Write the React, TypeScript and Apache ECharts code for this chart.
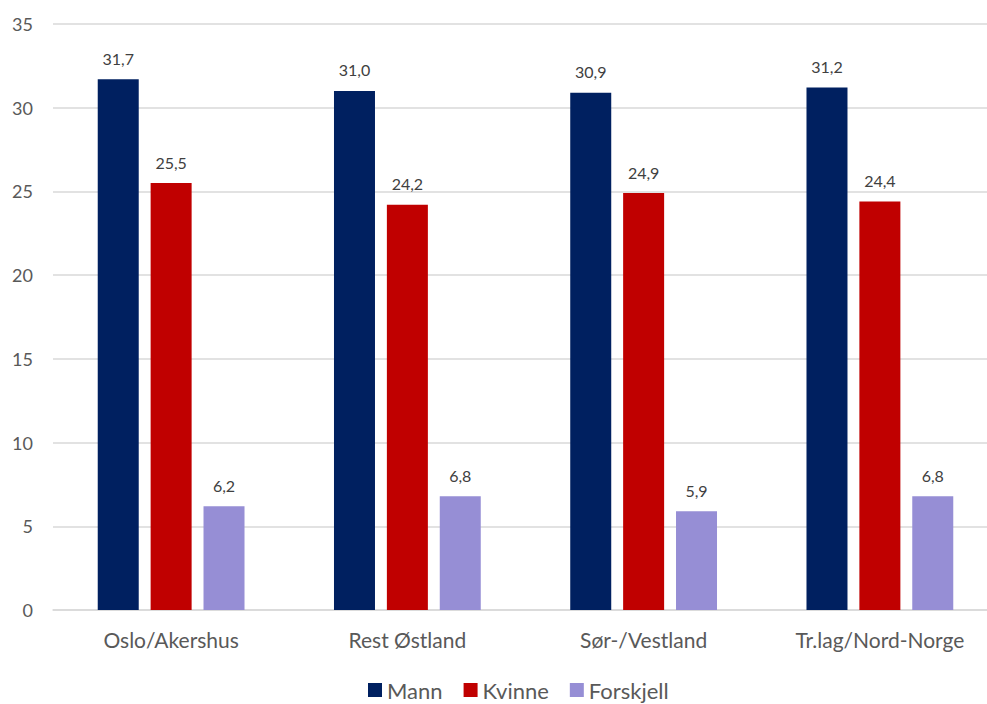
import React, { useEffect, useRef } from "react";
import * as echarts from "echarts";

const categories = ["Oslo/Akershus", "Rest Østland", "Sør-/Vestland", "Tr.lag/Nord-Norge"];
const mann = [31.7, 31.0, 30.9, 31.2];
const kvinne = [25.5, 24.2, 24.9, 24.4];
const forskjell = [6.2, 6.8, 5.9, 6.8];
const seriesNames = ["Mann", "Kvinne", "Forskjell"];
const seriesColors = ["#002060", "#C00000", "#968ED5"];

const FONT = "Lato, 'Noto Sans', sans-serif";
const TEXT = "#595959";

export default function App() {
  const ref = useRef<HTMLDivElement>(null);

  useEffect(() => {
    if (!ref.current) return;
    const chart = echarts.init(ref.current, null, { renderer: "svg" });
    const values = [mann, kvinne, forskjell];
    chart.setOption({
      animation: false,
      textStyle: { fontFamily: FONT },
      grid: { left: 53, right: 0, top: 24, bottom: 94, containLabel: false },
      legend: {
        top: 674,
        left: 363,
        itemWidth: 14,
        itemHeight: 14,
        itemGap: 21,
        icon: "rect",
        textStyle: { fontFamily: FONT, fontSize: 22, color: TEXT },
        data: seriesNames,
      },
      xAxis: {
        type: "category",
        data: categories,
        axisLine: { lineStyle: { color: "#D9D9D9", width: 1.5 } },
        axisTick: { show: false },
        axisLabel: { fontFamily: FONT, fontSize: 21, color: TEXT, margin: 19 },
      },
      yAxis: {
        type: "value",
        min: 0,
        max: 35,
        interval: 5,
        axisLine: { show: false },
        axisTick: { show: false },
        splitLine: { lineStyle: { color: "#D9D9D9", width: 1.5 } },
        axisLabel: { fontFamily: FONT, fontSize: 18, color: TEXT, margin: 20 },
      },
      series: seriesNames.map((name, i) => ({
        name,
        type: "bar",
        data: values[i],
        barWidth: 41,
        barGap: "29%",
        itemStyle: { color: seriesColors[i] },
        label: {
          show: true,
          position: "top",
          distance: 13,
          fontFamily: FONT,
          fontSize: 16,
          color: "#404040",
          formatter: (p: any) => Number(p.value).toFixed(1).replace(".", ","),
        },
      })),
    });
    return () => chart.dispose();
  }, []);

  // the plot area runs a little past the right edge of the window
  return (
    <div style={{ position: "fixed", left: 0, top: 0, width: 987, height: 704, overflow: "hidden", background: "#fff" }}>
      <div ref={ref} style={{ width: 998, height: 704 }} />
    </div>
  );
}
